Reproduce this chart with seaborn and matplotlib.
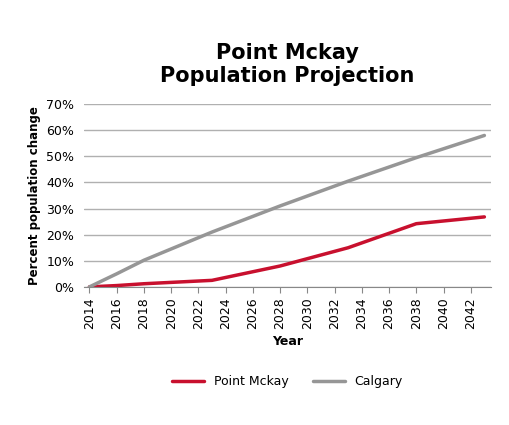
import matplotlib
matplotlib.use("Agg")
import matplotlib.pyplot as plt
import seaborn as sns
import pandas as pd

years = [2014, 2016, 2018, 2023, 2028, 2033, 2038, 2043]
point_mckay = [0, 0.5, 1.2, 2.5, 8.0, 15.0, 24.2, 26.8]
calgary = [0, 5.0, 10.2, 21.0, 31.0, 40.5, 49.5, 58.0]

df = pd.DataFrame({"Year": years * 2,
                   "value": point_mckay + calgary,
                   "series": ["Point Mckay"] * len(years) + ["Calgary"] * len(years)})

sns.set_style("white")
plt.rcParams['font.family'] = ['DejaVu Sans']
plt.rcParams['text.color'] = 'black'
plt.rcParams['axes.labelcolor'] = 'black'
plt.rcParams['xtick.color'] = 'black'
plt.rcParams['ytick.color'] = 'black'

fig, ax = plt.subplots(figsize=(5.09, 4.25), dpi=100)
fig.subplots_adjust(left=0.165, right=0.965, top=0.755, bottom=0.325)

sns.lineplot(data=df, x="Year", y="value", hue="series",
             palette={"Point Mckay": "#c8102e", "Calgary": "#969696"},
             linewidth=2.5, ax=ax)

ax.set_xlim(2013.6, 2043.5)
ax.set_ylim(0, 70)
ax.set_xticks(range(2014, 2043, 2))
ax.set_xticklabels([str(y) for y in range(2014, 2043, 2)], rotation=90, fontsize=9)
ax.set_yticks(range(0, 71, 10))
ax.set_yticklabels([f"{v}%" for v in range(0, 71, 10)], fontsize=9)
ax.yaxis.grid(True, color="#b0b0b0", linewidth=1)
for s in ["top", "right", "left"]:
    ax.spines[s].set_visible(False)
ax.spines["bottom"].set_color("#888888")
ax.tick_params(axis="x", length=4, color="#888888", labelcolor="black", direction="out", bottom=True)
ax.set_xlabel("Year", fontsize=9, fontweight="bold")
ax.set_ylabel("Percent population change", fontsize=8.5, fontweight="bold")
ax.set_title("Point Mckay\nPopulation Projection", fontsize=15, fontweight="bold", pad=16, color="black")

leg = ax.legend(loc="upper center", bbox_to_anchor=(0.5, -0.42), ncol=2,
                frameon=False, fontsize=9, handlelength=2.5)

fig.savefig("out.png", dpi=100)
